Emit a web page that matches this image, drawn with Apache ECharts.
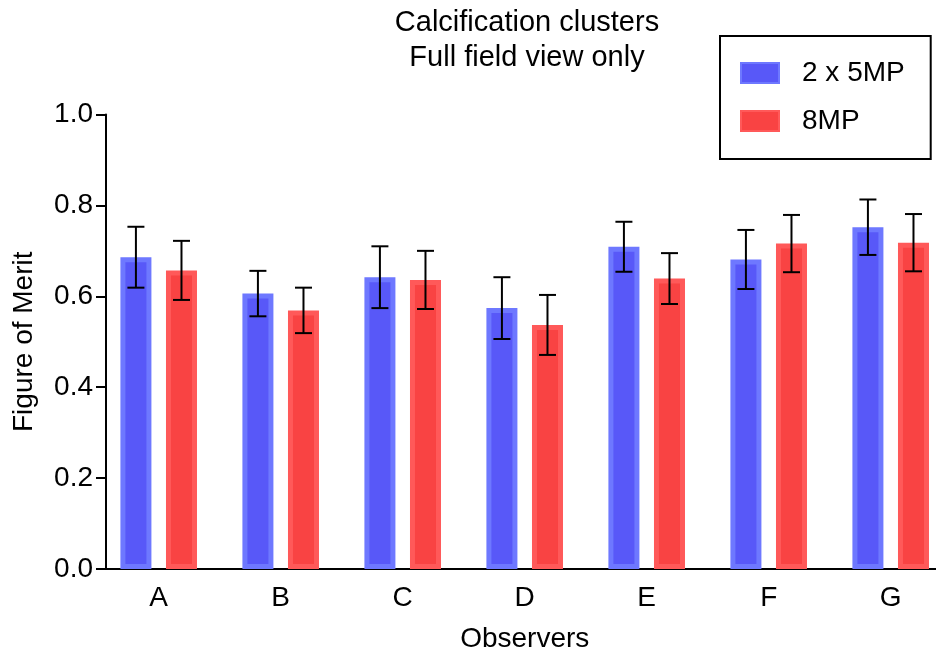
<!DOCTYPE html>
<html>
<head>
    <meta charset="utf-8">
    <title>Calcification clusters</title>
    <script src="https://cdn.jsdelivr.net/npm/echarts@6/dist/echarts.min.js"></script>
</head>
<style>
    html, body { margin: 0; padding: 0; background: #fff; }
    #chart { width: 936px; height: 653px; }
</style>
<body>
<div id="chart"></div>

<script>
    var observers = ['A', 'B', 'C', 'D', 'E', 'F', 'G'];
    var mp2x5 = [0.686, 0.606, 0.642, 0.574, 0.709, 0.681, 0.752];
    var mp2x5Err = [0.067, 0.050, 0.068, 0.068, 0.055, 0.065, 0.061];
    var mp8 = [0.657, 0.569, 0.636, 0.537, 0.639, 0.716, 0.718];
    var mp8Err = [0.065, 0.050, 0.064, 0.066, 0.056, 0.063, 0.063];
    var yTicks = [0, 0.2, 0.4, 0.6, 0.8, 1.0];
</script>

<script>
    var FONT = '"Liberation Sans", Arial, sans-serif';
    var BAR_W = 31, GAP = 0.47;
    var shift = (BAR_W + BAR_W * GAP) / 2;

    // error bars drawn next to each bar
    function errSeries(name, means, errs, dx) {
        var data = means.map(function (m, i) { return [i, m, errs[i]]; });
        return {
            name: name + ' err',
            type: 'custom',
            z: 5,
            silent: true,
            data: data,
            encode: { x: 0, y: 1 },
            renderItem: function (params, api) {
                var i = api.value(0), m = api.value(1), e = api.value(2);
                var top = api.coord([i, m + e]);
                var bot = api.coord([i, m - e]);
                var x = top[0] + dx, cap = 8.5;
                var st = { stroke: '#000', lineWidth: 2 };
                return {
                    type: 'group',
                    children: [
                        { type: 'line', shape: { x1: x, y1: top[1], x2: x, y2: bot[1] }, style: st },
                        { type: 'line', shape: { x1: x - cap, y1: top[1], x2: x + cap, y2: top[1] }, style: st },
                        { type: 'line', shape: { x1: x - cap, y1: bot[1], x2: x + cap, y2: bot[1] }, style: st }
                    ]
                };
            }
        };
    }

    var chart = echarts.init(document.getElementById('chart'));
    var option = {
        animation: false,
        textStyle: { fontFamily: FONT, color: '#000' },
        title: {
            text: 'Calcification clusters\nFull field view only',
            left: 522,
            top: 0,
            textAlign: 'center',
            textStyle: { fontFamily: FONT, fontSize: 29, fontWeight: 'normal', color: '#000', lineHeight: 35 }
        },
        legend: {
            orient: 'vertical',
            left: 720,
            top: 36,
            data: ['2 x 5MP', '8MP'],
            icon: 'rect',
            padding: [23, 26, 24, 20],
            itemGap: 20,
            itemWidth: 38,
            itemHeight: 20,
            borderColor: '#000',
            borderWidth: 2,
            textStyle: { fontFamily: FONT, fontSize: 28, color: '#000', padding: [0, 0, 0, 18] }
        },
        grid: { left: 97.7, top: 114.5, width: 854, bottom: 84, outerBoundsMode: 'none' },
        xAxis: {
            type: 'category',
            data: observers,
            name: 'Observers',
            nameLocation: 'middle',
            nameGap: 56,
            nameTextStyle: { fontFamily: FONT, fontSize: 28, color: '#000' },
            axisLine: { lineStyle: { color: '#000', width: 2 } },
            axisTick: { alignWithLabel: true, length: 10, lineStyle: { color: '#000', width: 2 } },
            axisLabel: { fontFamily: FONT, fontSize: 28, color: '#000', margin: 15 }
        },
        yAxis: {
            type: 'value',
            min: 0,
            max: 1,
            interval: 0.2,
            offset: -8.3,
            name: 'Figure of Merit',
            nameLocation: 'middle',
            nameGap: 68,
            nameTextStyle: { fontFamily: FONT, fontSize: 28, color: '#000' },
            splitLine: { show: false },
            axisLine: { show: true, lineStyle: { color: '#000', width: 2 } },
            axisTick: { show: true, length: 10, lineStyle: { color: '#000', width: 2 } },
            axisLabel: {
                fontFamily: FONT, fontSize: 28, color: '#000', margin: 13,
                formatter: function (v) { return yTicks.indexOf(v) >= 0 ? v.toFixed(1) : ''; }
            }
        },
        series: [
            {
                name: '2 x 5MP',
                type: 'bar',
                barWidth: BAR_W,
                barGap: (GAP * 100) + '%',
                data: mp2x5,
                itemStyle: { color: '#5858f8', borderColor: '#6e78ff', borderWidth: 5 }
            },
            {
                name: '8MP',
                type: 'bar',
                barWidth: BAR_W,
                data: mp8,
                itemStyle: { color: '#f94343', borderColor: '#ff5959', borderWidth: 5 }
            },
            errSeries('2 x 5MP', mp2x5, mp2x5Err, -shift),
            errSeries('8MP', mp8, mp8Err, shift)
        ]
    };
    chart.setOption(option);
</script>
</body>
</html>
